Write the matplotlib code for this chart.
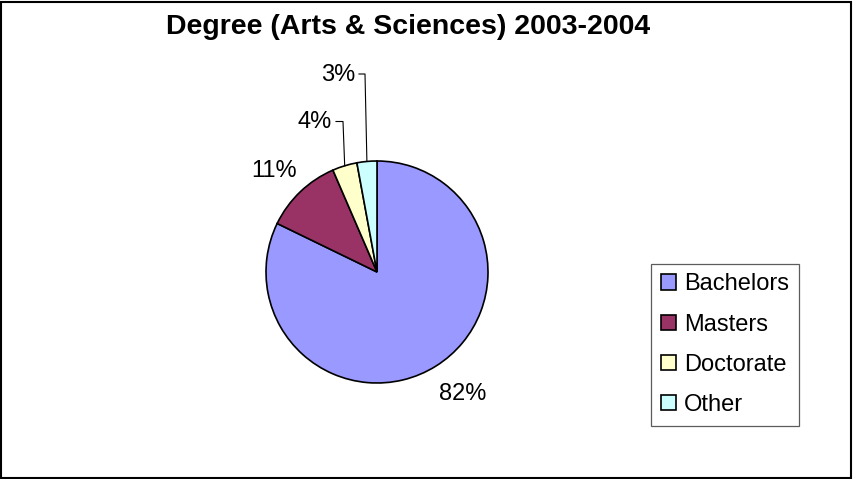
import numpy as np
import matplotlib
matplotlib.use("Agg")
import matplotlib.pyplot as plt
from matplotlib.patches import Rectangle

# ---- data ----
categories = ["Bachelors", "Masters", "Doctorate", "Other"]
shares = [82.2, 11.3, 3.6, 2.9]
colors = ["#9999FF", "#993366", "#FFFFCC", "#CCFFFF"]
title = "Degree (Arts & Sciences) 2003-2004"

W, H = 854, 479
plt.rcParams['font.family'] = ['Liberation Sans', 'DejaVu Sans']

fig = plt.figure(figsize=(W / 100, H / 100), dpi=100)
ax = fig.add_axes([0, 0, 1, 1])

def P(x, y):
    return x, H - y

cx, cy = P(377, 272)
R = 111
wedges, _ = ax.pie(shares, colors=colors, startangle=90, counterclock=False,
                   center=(cx, cy), radius=R,
                   wedgeprops=dict(edgecolor="black", linewidth=1.2))
ax.set_xlim(0, W)
ax.set_ylim(0, H)
ax.set_aspect('equal')
ax.axis('off')

# percentage labels (position: centre x, baseline y in pixels)
label_pos = [(463, 400), (274, 177), (315, 128), (338, 81)]
for v, (lx, ly) in zip(shares, label_pos):
    ax.text(*P(lx, ly), f"{v:.0f}%", ha='center', va='baseline', fontsize=17)

# leader lines for the small slices
leader_start = {2: (336, 121.5, 343), 3: (359, 74, 365)}
for i, (x0, y0, x1) in leader_start.items():
    w = wedges[i]
    mid = np.deg2rad((w.theta1 + w.theta2) / 2)
    ex, ey = cx + R * np.cos(mid), cy + R * np.sin(mid)
    sx, sy = P(x0, y0)
    mx, my = P(x1, y0)
    ax.plot([sx, mx, ex], [sy, my, ey], color="black", linewidth=0.8)

# title
ax.text(*P(408.5, 34), title, ha='center', va='baseline', fontsize=20.5,
        fontweight='bold')

# legend
leg = ax.legend(wedges, categories, loc='upper left',
                bbox_to_anchor=(651 / W, 1 - 263.5 / H), bbox_transform=fig.transFigure,
                fontsize=17, frameon=True, fancybox=False, borderaxespad=0,
                handlelength=0.62, handleheight=0.62, handletextpad=0.35,
                labelspacing=0.77, borderpad=0.42)
leg.get_frame().set_edgecolor("#333333")
leg.get_frame().set_linewidth(0.9)

# outer chart border
fig.add_artist(Rectangle((0.5 / W, 1.5 / H), (W - 3) / W, (H - 3) / H,
                         transform=fig.transFigure, fill=False,
                         edgecolor="black", linewidth=1.5))

fig.savefig("out.png", dpi=100)
